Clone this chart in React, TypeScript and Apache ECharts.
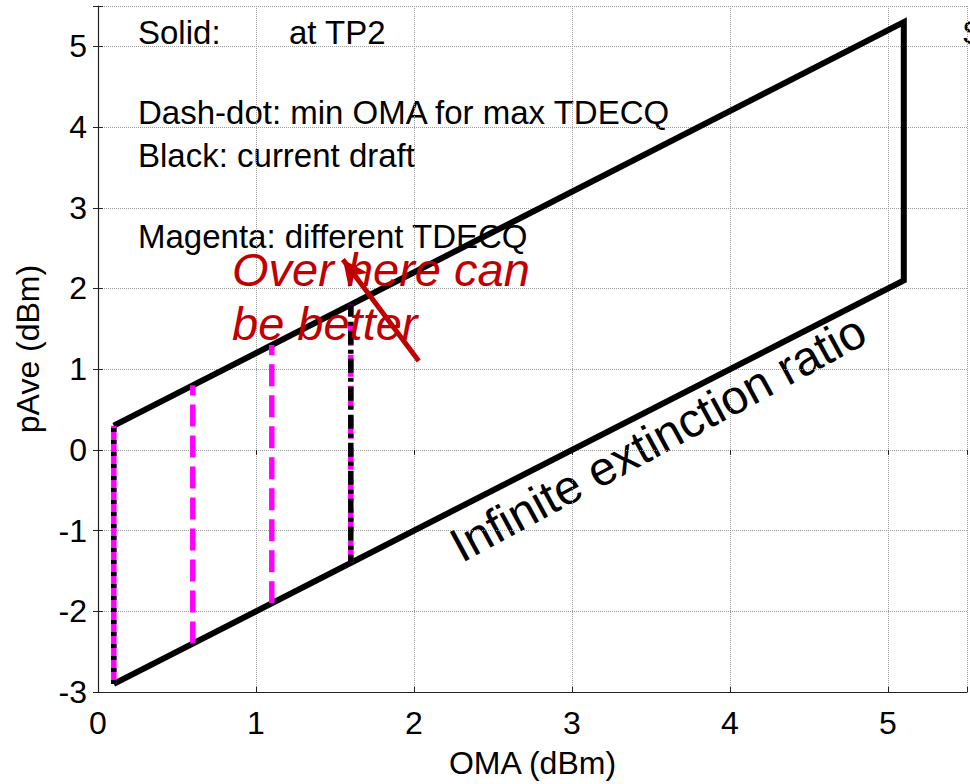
import React, { useEffect, useRef } from "react";
import * as echarts from "echarts";

// ---- data ----
const xTicks = [0, 1, 2, 3, 4, 5];
const yTicks = [-3, -2, -1, 0, 1, 2, 3, 4, 5];

// Solid black boundary (current draft), path order
const boundaryOMA = [0.1, 5.1, 5.1, 0.1];
const boundaryPave = [-2.9, 2.1, 5.3, 0.3];

// Magenta dashed verticals (different TDECQ)
const magentaOMA = [0.1, 0.6, 1.1, 1.6];
const magentaLow = [-2.9, -2.4, -1.9, -1.4];
const magentaHigh = [0.3, 0.8, 1.3, 1.8];

// Black dash-dot verticals (min OMA for max TDECQ, current draft)
const blackOMA = [0.1, 1.6];
const blackLow = [-2.9, -1.4];
const blackHigh = [0.3, 1.8];

// Red arrow (tail -> tip)
const arrowOMA = [2.03, 1.55];
const arrowPave = [1.1, 2.36];

const FONT = "'Liberation Sans', Arial, sans-serif";

export default function App() {
  const ref = useRef<HTMLDivElement>(null);

  useEffect(() => {
    if (!ref.current) return;
    const chart = echarts.init(ref.current, undefined, { renderer: "svg" });

    const series: any[] = [];

    series.push({
      name: "Black solid",
      type: "line",
      data: boundaryOMA.map((x, i) => [x, boundaryPave[i]]),
      showSymbol: false,
      symbol: "none",
      lineStyle: { color: "#000", width: 6, join: "miter", cap: "butt" },
      z: 3,
    });

    magentaOMA.forEach((x, i) => {
      series.push({
        name: "Magenta " + x,
        type: "line",
        data: [
          [x, magentaLow[i]],
          [x, magentaHigh[i]],
        ],
        symbol: "none",
        lineStyle: {
          color: "#ff00ff",
          width: 5.5,
          type: i === 0 ? "solid" : [22, 9],
          cap: "butt",
        },
        z: 4,
      });
    });

    blackOMA.forEach((x, i) => {
      series.push({
        name: "Black dash-dot " + x,
        type: "line",
        data: [
          [x, blackLow[i]],
          [x, blackHigh[i]],
        ],
        symbol: "none",
        lineStyle: {
          color: "#000",
          width: 5.5,
          type: i === 0 ? [4, 8] : [14, 5, 4, 5],
          dashOffset: i === 0 ? 0 : 6,
          cap: "butt",
        },
        z: 5,
      });
    });

    series.push({
      name: "Arrow",
      type: "line",
      data: [],
      symbol: "none",
      markLine: {
        silent: true,
        symbol: ["none", "arrow"],
        symbolSize: [18, 26],
        label: { show: false },
        lineStyle: { color: "#c00000", width: 5, type: "solid" },
        data: [
          [
            { coord: [arrowOMA[0], arrowPave[0]] },
            { coord: [arrowOMA[1], arrowPave[1]] },
          ],
        ],
      },
      z: 6,
    });

    chart.setOption({
      animation: false,
      backgroundColor: "#fff",
      textStyle: { fontFamily: FONT },
      grid: { left: 98, right: 3, top: 6, bottom: 90, containLabel: false },
      xAxis: [
        {
          type: "value",
          min: 0,
          max: 5.5,
          interval: 1,
          name: "OMA (dBm)",
          nameLocation: "middle",
          nameGap: 55,
          nameTextStyle: { fontSize: 32, color: "#000", fontFamily: FONT },
          axisLine: { show: true, onZero: false, lineStyle: { color: "#222", width: 1.2 } },
          axisTick: { show: true, inside: true, length: 5, lineStyle: { color: "#222" } },
          axisLabel: {
            fontSize: 32,
            color: "#000",
            margin: 15,
            fontFamily: FONT,
            formatter: (v: number) => (xTicks.includes(v) ? String(v) : ""),
          },
          splitLine: { show: true, lineStyle: { type: "dotted", color: "#9a9a9a", width: 1 } },
        },
        {
          type: "value",
          position: "top",
          min: 0,
          max: 5.5,
          interval: 1,
          axisLine: { show: false },
          axisTick: { show: true, inside: true, length: 5, lineStyle: { color: "#222" } },
          axisLabel: { show: false },
          splitLine: { show: false },
        },
      ],
      yAxis: [
        {
          type: "value",
          min: -3,
          max: 5.5,
          interval: 1,
          name: "pAve (dBm)",
          nameLocation: "middle",
          nameGap: 54,
          nameTextStyle: { fontSize: 32, color: "#000", fontFamily: FONT },
          axisLine: { show: true, onZero: false, lineStyle: { color: "#222", width: 1.2 } },
          axisTick: { show: true, inside: true, length: 5, lineStyle: { color: "#222" } },
          axisLabel: {
            fontSize: 32,
            color: "#000",
            margin: 11,
            fontFamily: FONT,
            formatter: (v: number) => (yTicks.includes(v) ? String(v) : ""),
          },
          splitLine: { show: true, lineStyle: { type: "dotted", color: "#9a9a9a", width: 1 } },
        },
        {
          type: "value",
          position: "right",
          min: -3,
          max: 5.5,
          interval: 1,
          axisLine: { show: false },
          axisTick: { show: true, inside: true, length: 5, lineStyle: { color: "#222" } },
          axisLabel: { show: false },
          splitLine: { show: false },
        },
      ],
      series,
      graphic: [
        { type: "text", x: 138, y: 32, style: { text: "Solid:", font: `33px ${FONT}`, fill: "#000", textVerticalAlign: "middle" } },
        { type: "text", x: 289, y: 32, style: { text: "at TP2", font: `33px ${FONT}`, fill: "#000", textVerticalAlign: "middle" } },
        { type: "text", x: 138, y: 112, style: { text: "Dash-dot: min OMA for max TDECQ", font: `33px ${FONT}`, fill: "#000", textVerticalAlign: "middle" } },
        { type: "text", x: 138, y: 155, style: { text: "Black: current draft", font: `33px ${FONT}`, fill: "#000", textVerticalAlign: "middle" } },
        { type: "text", x: 138, y: 236, style: { text: "Magenta: different TDECQ", font: `33px ${FONT}`, fill: "#000", textVerticalAlign: "middle" } },
        { type: "text", x: 962, y: 32, style: { text: "S", font: `33px ${FONT}`, fill: "#000", textVerticalAlign: "middle" } },
        { type: "text", x: 232, y: 269, z: 10, style: { text: "Over here can", font: `italic 47px ${FONT}`, fill: "#c00000", textVerticalAlign: "middle" } },
        { type: "text", x: 232, y: 323, z: 10, style: { text: "be better", font: `italic 47px ${FONT}`, fill: "#c00000", textVerticalAlign: "middle" } },
        {
          type: "text",
          x: 658,
          y: 438,
          rotation: (28.5 * Math.PI) / 180,
          style: { text: "Infinite extinction ratio", font: `48px ${FONT}`, fill: "#000", textAlign: "center", textVerticalAlign: "middle" },
        },
      ],
    });

    return () => chart.dispose();
  }, []);

  return (
    <div
      ref={ref}
      style={{ position: "fixed", left: 0, top: 0, width: 970, height: 784, background: "#fff" }}
    />
  );
}
